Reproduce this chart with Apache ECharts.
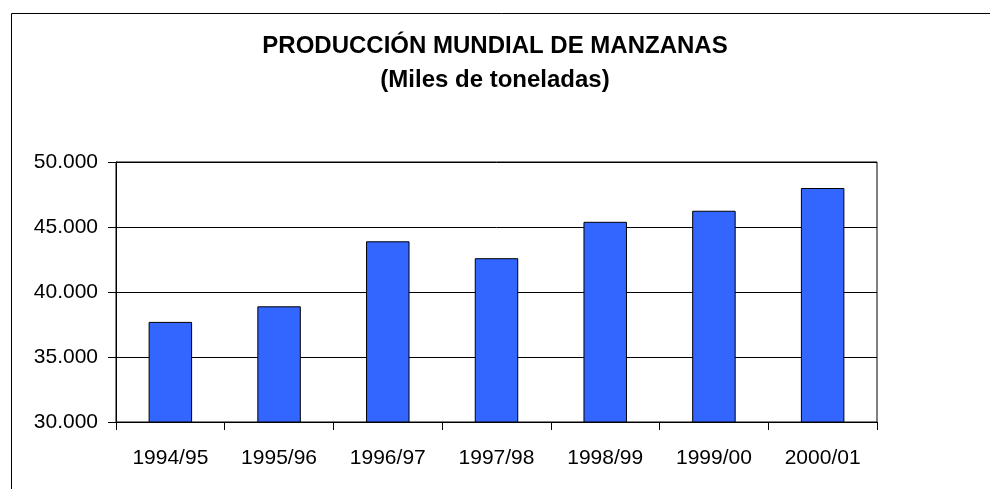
<!DOCTYPE html>
<html>
<head>
<meta charset="utf-8">
<title>Producción mundial de manzanas</title>
<script src="https://cdn.jsdelivr.net/npm/echarts@6/dist/echarts.min.js"></script>
<style>
  html, body { margin: 0; padding: 0; background: #fff; }
  #chart { width: 990px; height: 489px; }
</style>
</head>
<body>
<div id="chart"></div>
<script>
// campañas
var campaigns = ['1994/95', '1995/96', '1996/97', '1997/98', '1998/99', '1999/00', '2000/01'];
// miles de toneladas
var production = [37700, 38900, 43900, 42600, 45400, 46250, 48000];
var yTicks = [30000, 35000, 40000, 45000, 50000];

var myChart = echarts.init(document.getElementById('chart'));

function fmtThousands(v) {
  return String(v).replace(/\B(?=(\d{3})+(?!\d))/g, '.');
}

var option = {
  animation: false,
  textStyle: { fontFamily: 'Liberation Sans, Arial, sans-serif' },
  title: {
    text: 'PRODUCCIÓN MUNDIAL DE MANZANAS\n(Miles de toneladas)',
    left: 'center',
    top: 24,
    textStyle: {
      fontSize: 24,
      fontWeight: 'bold',
      color: '#000',
      lineHeight: 34,
      fontFamily: 'Liberation Sans, Arial, sans-serif'
    }
  },
  graphic: [
    {
      type: 'rect',
      left: 9,
      top: 11,
      shape: { width: 1000, height: 520 },
      style: { fill: 'none', stroke: '#000', lineWidth: 1 },
      silent: true
    }
  ],
  grid: {
    left: 116,
    right: 113,
    top: 162,
    bottom: 67,
    show: true,
    borderColor: '#000',
    borderWidth: 1,
    backgroundColor: 'transparent'
  },
  xAxis: {
    type: 'category',
    data: campaigns,
    axisLine: { lineStyle: { color: '#000', width: 1 } },
    axisTick: { show: true, length: 8, lineStyle: { color: '#000' } },
    axisLabel: { color: '#000', fontSize: 21, margin: 26 },
    splitLine: { show: false }
  },
  yAxis: {
    type: 'value',
    min: yTicks[0],
    max: yTicks[yTicks.length - 1],
    interval: yTicks[1] - yTicks[0],
    axisLine: { show: true, lineStyle: { color: '#000', width: 1 } },
    axisTick: { show: true, length: 8, lineStyle: { color: '#000' } },
    axisLabel: {
      color: '#000',
      fontSize: 21,
      margin: 18,
      formatter: fmtThousands
    },
    splitLine: { show: true, lineStyle: { color: '#000', width: 1 } }
  },
  series: [
    {
      type: 'bar',
      data: production,
      barWidth: '40%',
      itemStyle: {
        color: '#3366FF',
        borderColor: '#000',
        borderWidth: 1
      }
    }
  ]
};

myChart.setOption(option);
</script>
</body>
</html>
